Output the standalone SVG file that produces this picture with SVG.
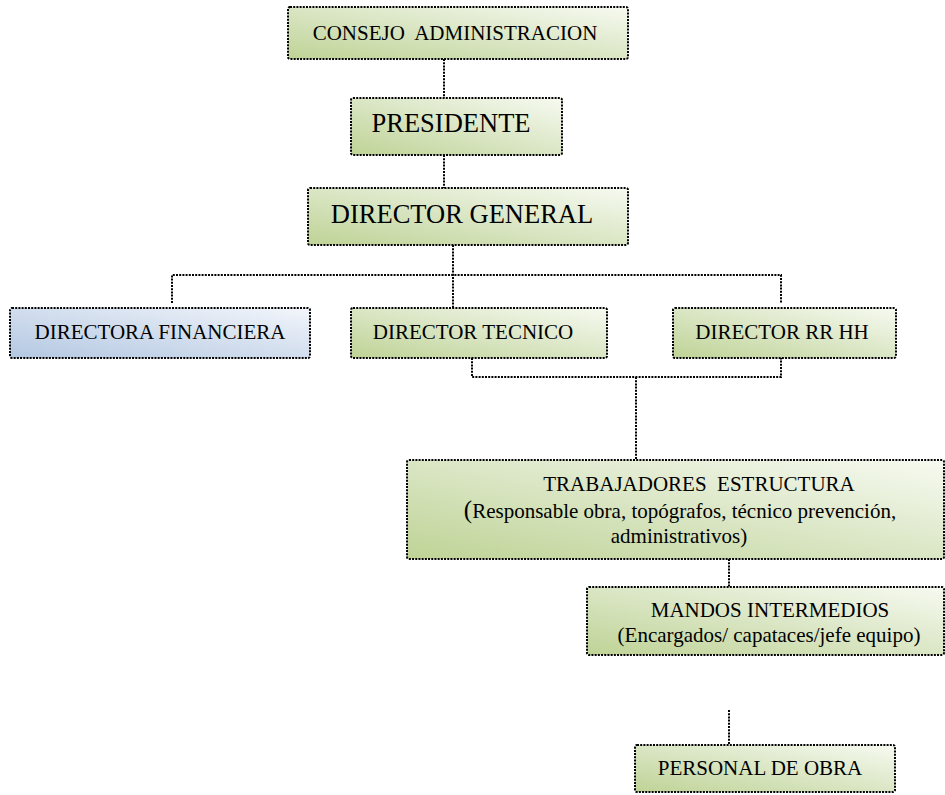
<svg xmlns="http://www.w3.org/2000/svg" width="945" height="795" viewBox="0 0 945 795">
<defs>
<linearGradient id="gGreen" x1="0" y1="1" x2="1" y2="0">
<stop offset="0" stop-color="#bfd396"/>
<stop offset="0.55" stop-color="#dde8c9"/>
<stop offset="1" stop-color="#f7faf1"/>
</linearGradient>
<linearGradient id="gBlue" x1="0" y1="1" x2="1" y2="0">
<stop offset="0" stop-color="#b4c8e2"/>
<stop offset="0.55" stop-color="#d5e0ef"/>
<stop offset="1" stop-color="#f3f6fb"/>
</linearGradient>
<style>
.box{stroke:#000;stroke-width:2;stroke-dasharray:2 1.2}
.g{fill:url(#gGreen)}
.b{fill:url(#gBlue)}
.con{fill:none;stroke:#000;stroke-width:2;stroke-dasharray:2 1.2}
.t21{font-size:21px}
.t26{font-size:26.5px}
</style>
</defs>
<rect width="945" height="795" fill="#fff"/>
<g id="connectors">
<path class="con" d="M444 59V98"/>
<path class="con" d="M444 155V188"/>
<path class="con" d="M453 245V308"/>
<path class="con" d="M172 303V275H781V303"/>
<path class="con" d="M472 358V377H781V358"/>
<path class="con" d="M636 377V460"/>
<path class="con" d="M729 559V587"/>
<path class="con" d="M729 710V745"/>
</g>
<g font-family="'Liberation Serif', 'Times New Roman', Times, serif" text-anchor="middle" fill="#000">
<g id="consejo">
<rect class="box g" x="288" y="7" width="340" height="52" rx="2"/>
<text class="t21" x="455" y="40" xml:space="preserve">CONSEJO  ADMINISTRACION</text>
</g>
<g id="presidente">
<rect class="box g" x="351" y="98" width="211" height="57" rx="2"/>
<text class="t26" x="451" y="132">PRESIDENTE</text>
</g>
<g id="director-general">
<rect class="box g" x="308" y="188" width="320" height="57" rx="2"/>
<text class="t26" x="462" y="223">DIRECTOR GENERAL</text>
</g>
<g id="directora-financiera">
<rect class="box b" x="10" y="308" width="300" height="50" rx="2"/>
<text class="t21" x="160" y="339">DIRECTORA FINANCIERA</text>
</g>
<g id="director-tecnico">
<rect class="box g" x="351" y="308" width="256" height="50" rx="2"/>
<text class="t21" x="473" y="339">DIRECTOR TECNICO</text>
</g>
<g id="director-rrhh">
<rect class="box g" x="673" y="308" width="223" height="50" rx="2"/>
<text class="t21" x="782" y="339">DIRECTOR RR HH</text>
</g>
<g id="trabajadores">
<rect class="box g" x="407" y="460" width="537" height="99" rx="2"/>
<text class="t21" x="699" y="491" xml:space="preserve">TRABAJADORES  ESTRUCTURA</text>
<text class="t21" x="680" y="518"><tspan font-size="25">(</tspan>Responsable obra, topógrafos, técnico prevención,</text>
<text class="t21" x="679" y="543">administrativos)</text>
</g>
<g id="mandos">
<rect class="box g" x="587" y="587" width="357" height="68" rx="2"/>
<text class="t21" x="770" y="617">MANDOS INTERMEDIOS</text>
<text class="t21" x="769" y="642">(Encargados/ capataces/jefe equipo)</text>
</g>
<g id="personal">
<rect class="box g" x="635" y="745" width="260" height="47" rx="2"/>
<text class="t21" x="760" y="775">PERSONAL DE OBRA</text>
</g>
</g>
</svg>
